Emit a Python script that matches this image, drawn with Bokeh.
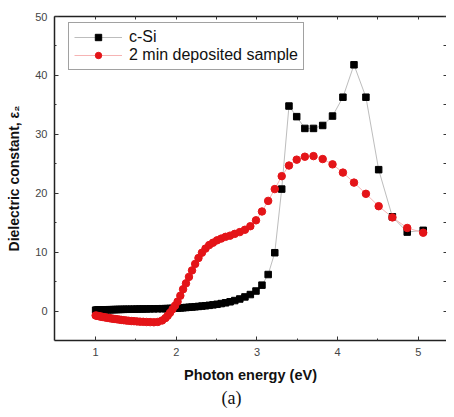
from bokeh.plotting import figure
from bokeh.models import Range1d, FixedTicker, LinearAxis, Title, Legend
from bokeh.embed import file_html
from bokeh.resources import INLINE

# Photon energy (eV)
energy = [1.000, 1.016, 1.033, 1.051, 1.069, 1.088, 1.107, 1.127, 1.148, 1.170,
          1.192, 1.216, 1.240, 1.265, 1.292, 1.319, 1.348, 1.378, 1.409, 1.442,
          1.476, 1.512, 1.550, 1.590, 1.632, 1.676, 1.722, 1.771, 1.824, 1.865,
          1.893, 1.922, 1.953, 1.984, 2.016, 2.050, 2.084, 2.120, 2.157, 2.195,
          2.234, 2.275, 2.318, 2.362, 2.408, 2.455, 2.505, 2.557, 2.611, 2.667,
          2.725, 2.787, 2.851, 2.918, 2.988, 3.062, 3.139, 3.221, 3.307, 3.397,
          3.493, 3.594, 3.701, 3.815, 3.937, 4.066, 4.203, 4.351, 4.509, 4.679,
          4.863, 5.061]

# c-Si epsilon_2
csi = [0.15, 0.16, 0.17, 0.18, 0.19, 0.20, 0.20, 0.21, 0.22, 0.23,
       0.23, 0.24, 0.25, 0.26, 0.27, 0.28, 0.29, 0.30, 0.30, 0.31,
       0.32, 0.33, 0.34, 0.35, 0.36, 0.37, 0.38, 0.39, 0.40, 0.41,
       0.42, 0.44, 0.46, 0.48, 0.50, 0.53, 0.56, 0.60, 0.64, 0.68,
       0.73, 0.78, 0.84, 0.90, 0.97, 1.05, 1.15, 1.27, 1.40, 1.57,
       1.78, 2.05, 2.40, 2.80, 3.40, 4.40, 6.20, 9.90, 20.7, 34.8,
       33.0, 31.0, 31.0, 31.5, 33.1, 36.3, 41.8, 36.3, 24.0, 16.0,
       13.4, 13.7]

# 2 min deposited sample epsilon_2
dep = [-0.75, -0.80, -0.85, -0.90, -0.95, -1.00, -1.05, -1.10, -1.15, -1.20,
       -1.25, -1.30, -1.35, -1.40, -1.45, -1.50, -1.55, -1.60, -1.65, -1.70,
       -1.72, -1.76, -1.80, -1.83, -1.86, -1.88, -1.90, -1.85, -1.60, -1.20,
       -0.80, -0.30, 0.30, 0.90, 1.60, 2.60, 3.70, 4.70, 5.80, 6.90,
       8.00, 9.00, 9.90, 10.6, 11.2, 11.6, 12.0, 12.3, 12.6, 12.8,
       13.1, 13.4, 13.8, 14.4, 15.4, 16.9, 18.7, 20.7, 22.9, 24.7,
       25.7, 26.2, 26.3, 25.8, 24.9, 23.5, 21.8, 19.9, 17.8, 15.9,
       14.1, 13.3]

x_ticks = [1, 2, 3, 4, 5]
x_minor = [1.5, 2.5, 3.5, 4.5]
y_ticks = [0, 10, 20, 30, 40, 50]
y_minor = [5, 15, 25, 35, 45]

FONT = "Liberation Sans"

p = figure(width=446, height=409, output_backend="svg", toolbar_location=None,
           x_range=Range1d(0.49, 5.35), y_range=Range1d(-5, 50),
           min_border_left=54, min_border_right=0, min_border_top=16,
           min_border_bottom=69, x_axis_location=None, y_axis_location=None)
p.outline_line_color = None
p.xgrid.visible = False
p.ygrid.visible = False
p.background_fill_color = "white"
p.border_fill_color = "white"


def style_axis(ax):
    ax.axis_line_color = "#222222"
    ax.axis_line_width = 1.5
    ax.major_tick_in = 4
    ax.major_tick_out = 0
    ax.minor_tick_in = 2
    ax.minor_tick_out = 0
    ax.major_tick_line_color = "#333333"
    ax.minor_tick_line_color = "#333333"
    ax.major_label_text_font = FONT
    ax.major_label_text_font_size = "11px"
    ax.major_label_text_color = "#444444"


xb = LinearAxis(ticker=FixedTicker(ticks=x_ticks, minor_ticks=x_minor),
                axis_label="Photon energy (eV)")
style_axis(xb)
xb.major_label_standoff = 7
xb.axis_label_standoff = 8
xb.axis_label_text_font = FONT
xb.axis_label_text_font_style = "bold"
xb.axis_label_text_font_size = "14.5px"
xb.axis_label_text_color = "#111111"

yl = LinearAxis(ticker=FixedTicker(ticks=y_ticks, minor_ticks=y_minor),
                axis_label="Dielectric constant, ε₂")
style_axis(yl)
yl.major_label_standoff = 7
yl.axis_label_standoff = 10
yl.axis_label_text_font = FONT
yl.axis_label_text_font_style = "bold"
yl.axis_label_text_font_size = "14px"
yl.axis_label_text_color = "#111111"

# mirrored tick marks on top / right (tick marks only, no labels)
xa = LinearAxis(ticker=FixedTicker(ticks=[], minor_ticks=x_ticks + x_minor))
style_axis(xa)
xa.minor_tick_in = 3
yr = LinearAxis(ticker=FixedTicker(ticks=[], minor_ticks=y_ticks + y_minor))
style_axis(yr)
yr.minor_tick_in = 3
yr.axis_line_color = None  # right frame edge is cut off in the original

p.add_layout(xb, "below")
p.add_layout(yl, "left")
p.add_layout(xa, "above")
p.add_layout(yr, "right")

cap = Title(text="(a)", align="left", offset=167, standoff=0,
            text_font="Liberation Serif", text_font_size="18px",
            text_font_style="normal", text_color="#111111")
p.add_layout(cap, "below")

l1 = p.line(energy, csi, line_color="#bdbdbd", line_width=1)
s1 = p.scatter(energy, csi, marker="square", size=6.5, fill_color="black",
               line_color="black")
l2 = p.line(energy, dep, line_color="#f6b4b4", line_width=1)
s2 = p.scatter(energy, dep, marker="circle", size=7.5, fill_color="#e41418",
               line_color="#e41418")

legend = Legend(items=[("c-Si", [l1, s1]), ("2 min deposited sample", [l2, s2])],
                location=(14, 270), padding=5, spacing=0, margin=0,
                glyph_width=48, glyph_height=16, label_standoff=7,
                label_text_font=FONT, label_text_font_size="16px",
                label_text_color="#111111", border_line_color="#444444",
                border_line_width=1.2, background_fill_alpha=1)
p.add_layout(legend, "center")

open("out.html", "w").write(file_html(p, INLINE))
